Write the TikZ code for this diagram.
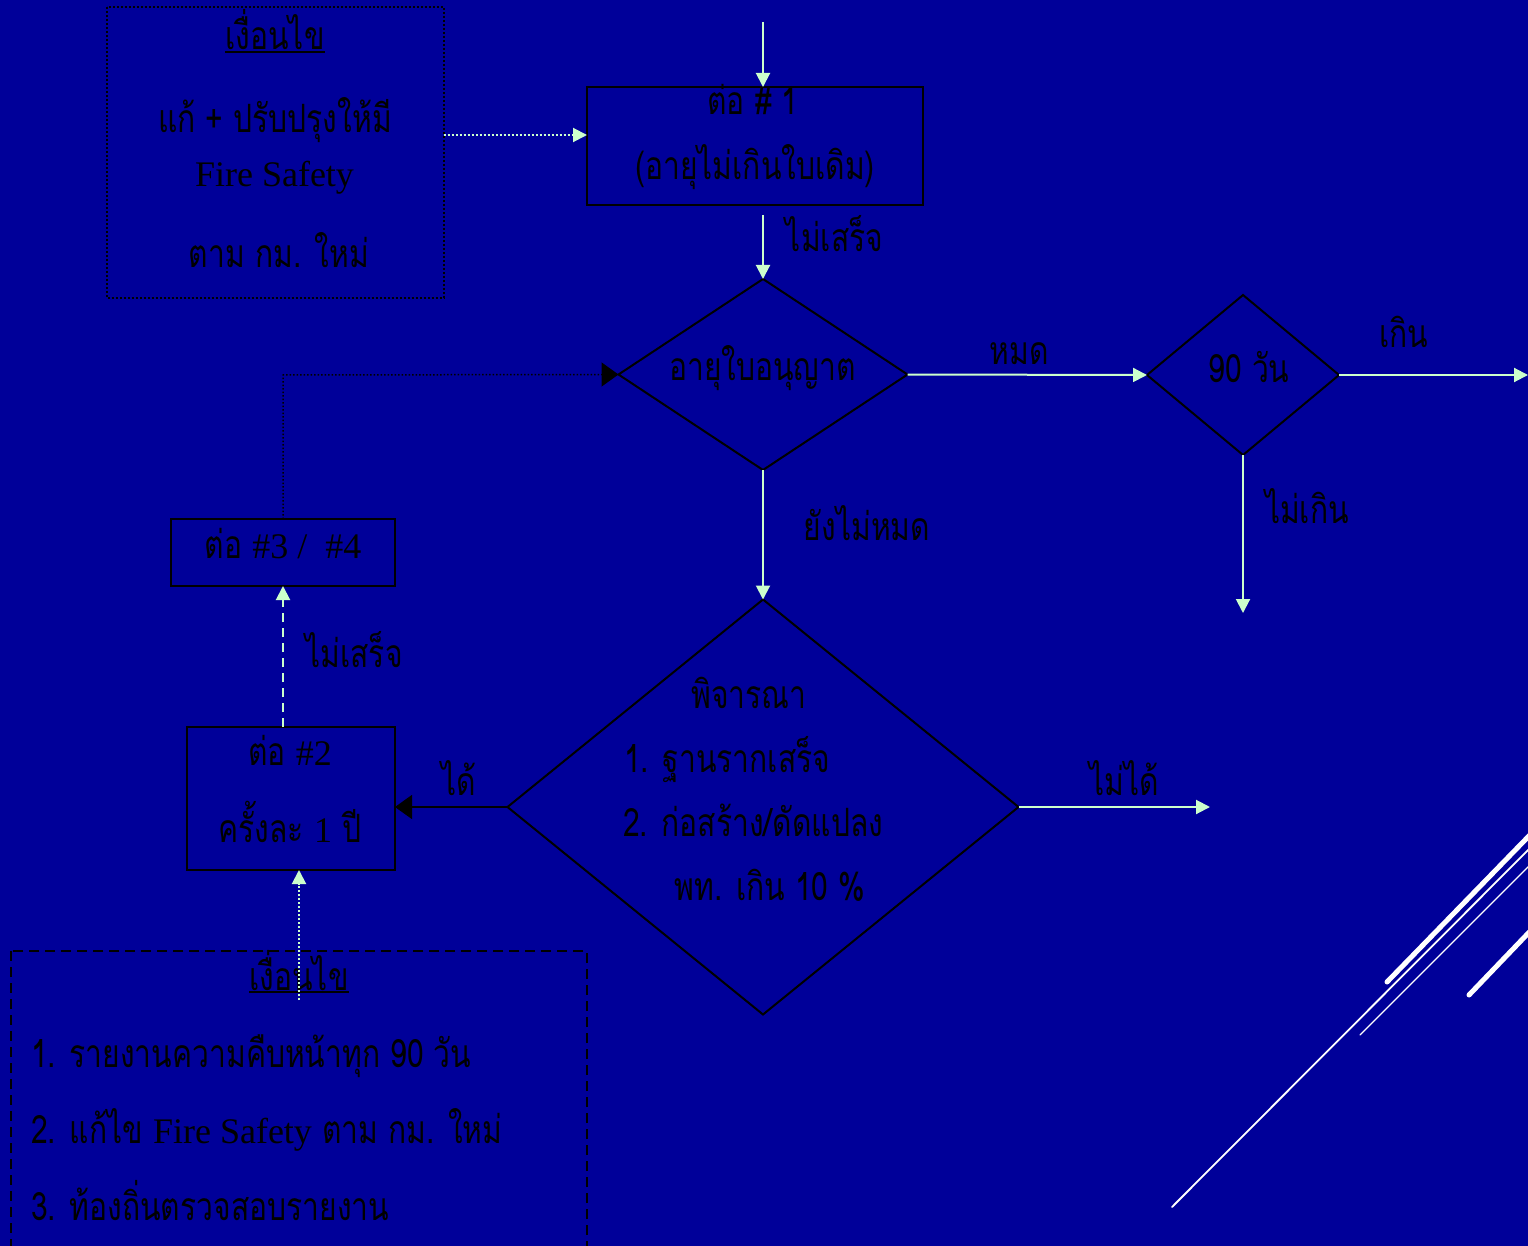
\documentclass[tikz,border=0pt]{standalone}
\usepackage{fontspec}
\newfontfamily\thai[Script=Thai,FakeStretch=0.77]{Loma}
\newfontfamily\lat{Liberation Serif}
\usetikzlibrary{arrows.meta,shapes.geometric}
\definecolor{bg}{HTML}{000099}
\definecolor{lg}{HTML}{CCFFCC}
\newcommand{\latin}[1]{{\lat\fontsize{36}{40}\selectfont #1}}
\begin{document}
\begin{tikzpicture}[x=1pt,y=-1pt,
  txt/.style={font=\thai\fontsize{39}{44}\selectfont, text=black, inner sep=0pt, anchor=base},
  ltxt/.style={txt, anchor=base west},
  boxshape/.style={draw=black, line width=2.5pt, inner sep=0pt, outer sep=0pt, rectangle},
  dia/.style={draw=black, line width=2pt, inner sep=0pt, outer sep=0pt, diamond},
  flow/.style={draw=lg, line width=2pt, -{Triangle[length=14pt,width=14pt]}, lg},
  blackflow/.style={draw=black, line width=1.5pt, -{Triangle[length=17pt,width=24pt]}, black},
  uline/.style={draw=black, line width=1.2pt},
  deco/.style={draw=white, line cap=round}
]
\fill[bg] (0,0) rectangle (1528,1246);
\useasboundingbox (0,0) rectangle (1528,1246);
\clip (0,0) rectangle (1528,1246);

% decorative lines
\draw[deco, line width=5pt] (1387,982) -- (1560,804);
\draw[deco, line width=1.8pt] (1172,1207) -- (1560,818);
\draw[deco, line width=1.3pt] (1360,1035) -- (1560,835);
\draw[deco, line width=5pt] (1469,995) -- (1560,900);

% shapes
\node[boxshape, draw=none] (cond1) at (275,152.5) [minimum width=337pt, minimum height=291pt] {};
\draw[black, line width=2pt, dash pattern=on 2pt off 2pt] (cond1.north west) rectangle (cond1.south east);
\node[boxshape] (box1) at (755,146) [minimum width=336pt, minimum height=118pt] {};
\node[dia, minimum width=289pt, minimum height=191pt] (d1) at (763,374.5) {};
\node[dia, minimum width=192pt, minimum height=160pt] (d2) at (1243,375) {};
\node[dia, minimum width=511pt, minimum height=415pt] (d3) at (763,807) {};
\node[boxshape] (box2) at (291,798.5) [minimum width=208pt, minimum height=143pt] {};
\node[boxshape] (box3) at (283,552.5) [minimum width=224pt, minimum height=67pt] {};
\node[boxshape, draw=none] (cond2) at (299,1110) [minimum width=576pt, minimum height=318pt] {};
\draw[black, line width=2.5pt, dash pattern=on 10pt off 6pt] (cond2.north west) rectangle (cond2.south east);

% texts
\node[txt] (t1a) at (275,50) {เงื่อนไข};
\draw[uline] ([yshift=-2pt]t1a.base west) -- ([yshift=-2pt]t1a.base east);
\node[txt] (t1b) at (275,133) {แก้ + ปรับปรุงให้มี};
\node[txt] (t1c) at (274.5,187) {\latin{Fire Safety}};
\node[txt] (t1d) at (279,268) {ตาม กม. ใหม่};

\node[txt] (b1a) at (753,115) {ต่อ \# 1};
\node[txt] (b1b) at (755,180) {(อายุไม่เกินใบเดิม)};
\node[txt] (l1) at (834.5,252) {ไม่เสร็จ};

\node[txt] (d1t) at (762.5,380) {อายุใบอนุญาต};
\node[txt] (l2) at (1019,365) {หมด};
\node[txt] (d2t) at (1249,382) {90 วัน};
\node[txt] (l3) at (1404,348) {เกิน};
\node[txt] (l4) at (1307,523) {ไม่เกิน};
\node[txt] (l5) at (867,540) {ยังไม่หมด};

\node[txt] (d3a) at (749,708) {พิจารณา};
\node[ltxt] (d3b) at (624,772) {1. ฐานรากเสร็จ};
\node[ltxt] (d3c) at (623,836) {2. ก่อสร้าง/ดัดแปลง};
\node[txt] (d3d) at (770,900) {พท. เกิน 10 \%};
\node[txt] (l6) at (1124,795) {ไม่ได้};
\node[txt] (l7) at (459,795) {ได้};

\node[txt] (b2a) at (290,765) {ต่อ \latin{\#2}};
\node[txt] (b2b) at (290,842) {ครั้งละ \latin{1} ปี};
\node[txt] (b3a) at (283,558) {ต่อ \latin{\#3 /~~\#4}};
\node[txt] (l8) at (354,667) {ไม่เสร็จ};

\node[txt] (c2a) at (299,990) {เงื่อนไข};
\draw[uline] ([yshift=-2pt]c2a.base west) -- ([yshift=-2pt]c2a.base east);
\node[ltxt] (c2b) at (31,1067) {1. รายงานความคืบหน้าทุก 90 วัน};
\node[ltxt] (c2c) at (31,1143) {2. แก้ไข \latin{Fire Safety} ตาม กม. ใหม่};
\node[ltxt] (c2d) at (31,1220) {3. ท้องถิ่นตรวจสอบรายงาน};

% connectors
\coordinate (topin) at (763,22);
\coordinate (y135) at (0,135);
\coordinate (b1out) at (763,215);
\coordinate (outR) at (1528,375);
\coordinate (outD) at (1243,613);
\coordinate (outN) at (1210,807);
\coordinate (c2in) at (299,1000);
\coordinate (bend) at (283,375);

\draw[flow] (topin) -- (topin |- box1.north);
\draw[flow, dash pattern=on 2pt off 2pt] (cond1.east |- y135) -- (box1.west |- y135);
\draw[flow] (b1out) -- (d1.north);
\draw[flow] (d1.east) -- (d2.west);
\draw[flow] (d2.east) -- (outR);
\draw[flow] (d2.south) -- (outD);
\draw[flow] (d1.south) -- (d3.north);
\draw[flow] (d3.east) -- (outN);
\draw[blackflow] (d3.west) -- (d3.west -| box2.east);
\draw[flow, dash pattern=on 9pt off 6pt] (box3.south |- box2.north) -- (box3.south);
\draw[black, line width=1.5pt, dash pattern=on 1.5pt off 2pt] (box3.north) -- (bend) -- ([xshift=-17pt]d1.west);
\draw[blackflow] ([xshift=-17.5pt]d1.west) -- (d1.west);
\draw[flow, dash pattern=on 2pt off 2pt] (c2in) -- (c2in |- box2.south);
\end{tikzpicture}
\end{document}
